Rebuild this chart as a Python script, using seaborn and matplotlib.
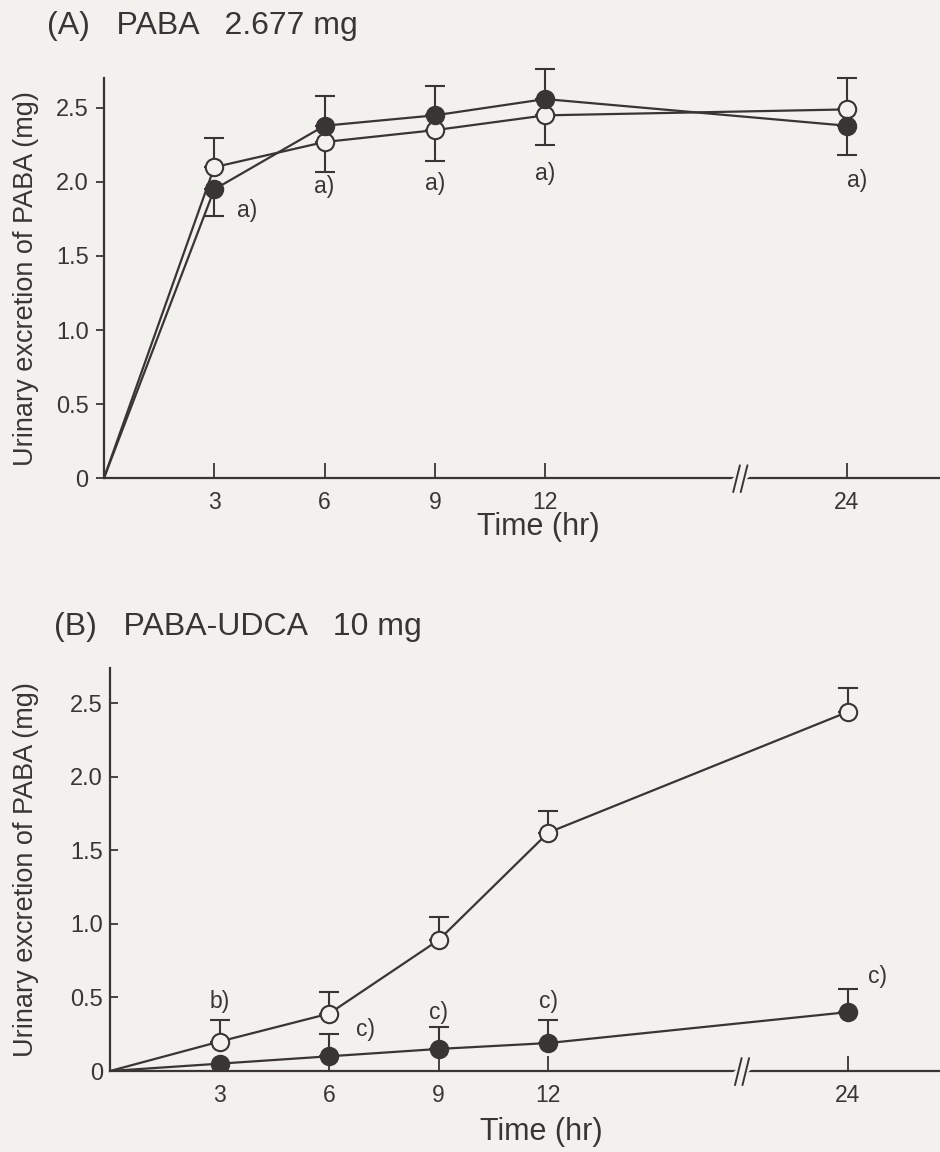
import numpy as np
import matplotlib
matplotlib.use("Agg")
import matplotlib.pyplot as plt
import seaborn as sns

# ---- data ----
time = np.array([0, 3, 6, 9, 12, 24])

# (A) PABA 2.677 mg
a_open = np.array([0, 2.10, 2.27, 2.35, 2.45, 2.49])
a_open_lo = np.array([0, 0, 0.20, 0.21, 0.20, 0])
a_open_hi = np.array([0, 0.20, 0, 0, 0, 0.21])
a_fill = np.array([0, 1.95, 2.38, 2.45, 2.56, 2.38])
a_fill_lo = np.array([0, 0.18, 0, 0, 0, 0.20])
a_fill_hi = np.array([0, 0, 0.20, 0.20, 0.20, 0])

# (B) PABA-UDCA 10 mg
b_open = np.array([0, 0.20, 0.39, 0.89, 1.62, 2.44])
b_open_hi = np.array([0, 0.15, 0.15, 0.16, 0.15, 0.16])
b_fill = np.array([0, 0.05, 0.10, 0.15, 0.19, 0.40])
b_fill_hi = np.array([0, 0, 0.15, 0.15, 0.16, 0.16])

a_marks = [(3.9, 1.81, "a)"), (6, 1.97, "a)"), (9, 1.99, "a)"), (12, 2.06, "a)"), (24.4, 2.01, "a)")]
b_marks = [(3, 0.47, "b)"), (7.0, 0.28, "c)"), (9, 0.40, "c)"), (12, 0.47, "c)"), (25.2, 0.64, "c)")]

xticks = [3, 6, 9, 12, 24]
titles = ["(A)   PABA   2.677 mg", "(B)   PABA-UDCA   10 mg"]
ylab = "Urinary excretion of PABA (mg)"
xlab = "Time (hr)"

# ---- style ----
bg = "#f2f1ee"
ink = "#3a3535"
sns.set_theme(style="ticks")
plt.rcParams["font.family"] = ["Liberation Sans", "DejaVu Sans"]
plt.rcParams["text.color"] = ink
plt.rcParams["axes.labelcolor"] = ink

k = 8.2 / 12.0  # compressed segment after the axis break


def fwd(x):
    x = np.asarray(x, dtype=float)
    return np.where(x <= 12, x, 12 + (x - 12) * k)


def inv(p):
    p = np.asarray(p, dtype=float)
    return np.where(p <= 12, p, 12 + (p - 12) / k)


fig = plt.figure(figsize=(9.4, 11.52), dpi=100, facecolor=bg)
axA = fig.add_axes([0.1106, 0.585, 0.889, 0.347])
axB = fig.add_axes([0.117, 0.0703, 0.883, 0.350])


def series(ax, y, lo, hi, filled):
    fc = ink if filled else bg
    sns.lineplot(x=time, y=y, ax=ax, color=ink, lw=1.6, marker="o", markersize=12.5,
                 markevery=list(range(1, len(time))),
                 markerfacecolor=fc, markeredgecolor=ink, markeredgewidth=1.5, zorder=3)
    m = (lo + hi) > 0
    ax.errorbar(time[m], y[m], yerr=[lo[m], hi[m]], fmt="none", ecolor=ink,
                elinewidth=1.5, capsize=7, capthick=1.5, zorder=2, clip_on=False)


def frame(ax, ytop, title, marks, tickdir, ylab_x, xlab_y, title_y):
    ax.set_facecolor(bg)
    ax.set_xscale("function", functions=(fwd, inv))
    ax.set_xlim(0, 27.7)
    ax.set_ylim(0, ytop)
    ax.set_xticks(xticks)
    ax.set_xticklabels([str(t) for t in xticks])
    ax.set_yticks([0, 0.5, 1.0, 1.5, 2.0, 2.5])
    ax.set_yticklabels(["0", "0.5", "1.0", "1.5", "2.0", "2.5"])
    ax.tick_params(axis="x", direction="in", length=11, width=1.3, colors=ink,
                   labelsize=16.5, pad=9)
    ax.tick_params(axis="y", direction=tickdir, length=6, width=1.3, colors=ink,
                   labelsize=17, pad=5)
    for s in ["top", "right"]:
        ax.spines[s].set_visible(False)
    for s in ["left", "bottom"]:
        ax.spines[s].set_color(ink)
        ax.spines[s].set_linewidth(1.6)
    ax.set_ylabel(ylab, fontsize=19.5)
    ax.yaxis.set_label_coords(ylab_x, 0.5)
    ax.set_xlabel(xlab, fontsize=22)
    ax.xaxis.set_label_coords(0.52, xlab_y)
    ax.text(-0.068, title_y, title, transform=ax.transAxes, fontsize=23, ha="left", va="center")
    for x, y, t in marks:
        ax.text(x, y, t, fontsize=16.5, ha="center", va="center", color=ink)
    # axis break
    bx = 0.757
    ax.plot([bx - 0.004, bx + 0.013], [-0.015, 0.015], transform=ax.transAxes,
            color=bg, lw=7, clip_on=False, zorder=4)
    for dx in (0, 0.009):
        ax.plot([bx - 0.004 + dx, bx + 0.004 + dx], [-0.035, 0.032], transform=ax.transAxes,
                color=ink, lw=1.4, clip_on=False, zorder=5)


series(axA, a_open, a_open_lo, a_open_hi, False)
series(axA, a_fill, a_fill_lo, a_fill_hi, True)
series(axB, b_open, np.zeros(6), b_open_hi, False)
series(axB, b_fill, np.zeros(6), b_fill_hi, True)

frame(axA, 2.70, titles[0], a_marks, "out", -0.078, -0.085, 1.13)
frame(axB, 2.74, titles[1], b_marks, "in", -0.085, -0.115, 1.10)

fig.savefig("out.png", dpi=100, facecolor=bg)
